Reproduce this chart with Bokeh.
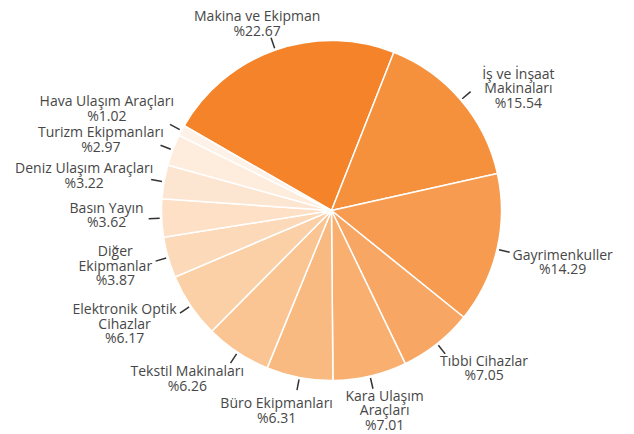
import math
from bokeh.plotting import figure
from bokeh.models import Range1d, ColumnDataSource
from bokeh.embed import file_html
from bokeh.resources import INLINE
from bokeh.core.properties import value

# ---- data ----
categories = [
    "Makina ve Ekipman",
    "İş ve İnşaat\nMakinaları",
    "Gayrimenkuller",
    "Tıbbi Cihazlar",
    "Kara Ulaşım\nAraçları",
    "Büro Ekipmanları",
    "Tekstil Makinaları",
    "Elektronik Optik\nCihazlar",
    "Diğer\nEkipmanlar",
    "Basın Yayın",
    "Deniz Ulaşım Araçları",
    "Turizm Ekipmanları",
    "Hava Ulaşım Araçları",
]
shares = [22.67, 15.54, 14.29, 7.05, 7.01, 6.31, 6.26, 6.17, 3.87, 3.62, 3.22, 2.97, 1.02]
colors = [
    "#F4832A", "#F5913D", "#F69B50", "#F7A663", "#F8AF70", "#F9BA82", "#FAC592",
    "#FBD0A6", "#FCD9B8", "#FDE0C5", "#FDE6D1", "#FEECDD", "#FEF2E8",
]

# ---- layout / style ----
W, H = 634, 434
CX, CY = 331, 210          # pie centre in picture pixels
R = 170
START_DEG = -60.1          # first slice starts here (clockwise from 12 o'clock)
TICK_R1, TICK_R2 = 172, 183
LABEL_ROT = 2.0            # side labels sit slightly further round (degrees)
FONT = "Open Sans"
FS = 14
LINE_H = 14.6
TEXT_COLOR = "#474747"


def to_y(y_screen):
    return H - y_screen


def text_width(t):
    w = 0.0
    for ch in t:
        if ch in "iıljI.,:İ":
            w += 0.28
        elif ch in "frt":
            w += 0.40
        elif ch == " ":
            w += 0.32
        elif ch in "mMwW%":
            w += 0.95
        elif ch.isdigit():
            w += 0.636
        elif ch.isupper():
            w += 0.68
        else:
            w += 0.60
    return w * 13


total = sum(shares)
starts, ends = [], []
acc = START_DEG
for v in shares:
    starts.append(acc)
    acc += v / total * 360.0
    ends.append(acc)

wedge_src = ColumnDataSource(dict(
    x=[CX] * len(shares),
    y=[to_y(CY)] * len(shares),
    start=[math.radians(90 - e) for e in ends],
    end=[math.radians(90 - s) for s in starts],
    color=colors,
))

blocks = []
tick_x0, tick_y0, tick_x1, tick_y1 = [], [], [], []
for i, (name, v) in enumerate(zip(categories, shares)):
    mid_deg = (starts[i] + ends[i]) / 2
    mid = math.radians(mid_deg)
    s, c = math.sin(mid), math.cos(mid)
    tick_x0.append(CX + TICK_R1 * s)
    tick_y0.append(to_y(CY - TICK_R1 * c))
    tick_x1.append(CX + TICK_R2 * s)
    tick_y1.append(to_y(CY - TICK_R2 * c))
    if abs(s) > 0.5 and c > -0.25:
        lm = math.radians(mid_deg + LABEL_ROT)
    else:
        lm = mid
    ls, lc = math.sin(lm), math.cos(lm)
    lines = name.split("\n") + ["%" + f"{v:.2f}"]
    w = max(text_width(l) for l in lines)
    h = len(lines) * LINE_H
    ax, ay = CX + TICK_R2 * ls, CY - TICK_R2 * lc
    if c >= 0:
        k = math.copysign(min(1.0, 2.0 * s * s), s)
    else:
        k = max(-1.0, min(1.0, 1.3 * s))
    if s > 0:
        gap = 6.0 * abs(k) ** 3
    else:
        gap = (1.0 if c >= 0 else -4.0) * abs(k) ** 3
    bx = ax + (w / 2) * k + gap
    by = ay - c * abs(c) * (h / 2 + 4) + 2
    blocks.append(dict(lines=lines, w=w, h=h, bx=bx, by=by, s=s, c=c,
                       side=(1 if s > 0.3 else (-1 if s < -0.3 else 0))))

# keep blocks inside the picture
for b in blocks:
    if b["by"] + b["h"] / 2 > H - 3:
        b["by"] = H - 3 - b["h"] / 2
    if b["by"] - b["h"] / 2 < 2:
        b["by"] = 2 + b["h"] / 2

# vertical overlap removal on each side (push upwards from bottom)
for side in (-1, 1):
    idx = [i for i, b in enumerate(blocks) if b["side"] == side]
    idx.sort(key=lambda i: blocks[i]["by"])
    for j in range(len(idx) - 2, -1, -1):
        a, b = blocks[idx[j]], blocks[idx[j + 1]]
        top_b = b["by"] - b["h"] / 2
        bottom_a = a["by"] + a["h"] / 2
        if bottom_a > top_b - 2:
            a["by"] = top_b - 2 - a["h"] / 2

# horizontal separation of neighbouring bottom labels
bottom = [i for i, b in enumerate(blocks) if b["c"] < -0.5]
bottom.sort(key=lambda i: blocks[i]["bx"])
for j in range(len(bottom) - 1):
    a, b = blocks[bottom[j]], blocks[bottom[j + 1]]
    if abs(a["by"] - b["by"]) < (a["h"] + b["h"]) / 2:
        g = (b["bx"] - b["w"] / 2) - (a["bx"] + a["w"] / 2)
        if g < 14:
            mover = a if abs(a["s"]) < abs(b["s"]) else b
            shift = 14 - g
            mover["bx"] += -shift if mover is a else shift

tx, ty, tt = [], [], []
for b in blocks:
    n = len(b["lines"])
    for j, line in enumerate(b["lines"]):
        yc = b["by"] + (j - (n - 1) / 2) * LINE_H
        tx.append(b["bx"])
        ty.append(to_y(yc))
        tt.append(line)

p = figure(width=W, height=H, output_backend="svg", toolbar_location=None,
           x_range=Range1d(0, W), y_range=Range1d(0, H),
           x_axis_location=None, y_axis_location=None, min_border=0)
p.grid.visible = False
p.outline_line_color = None
p.background_fill_color = "white"

p.wedge(x="x", y="y", radius=R, start_angle="start", end_angle="end",
        fill_color="color", line_color="white", line_width=1.5, source=wedge_src)

p.segment(x0=tick_x0, y0=tick_y0, x1=tick_x1, y1=tick_y1, line_color="#333333", line_width=1.5)

p.text(x=tx, y=ty, text=tt, text_align="center", text_baseline="middle",
       text_font=value(FONT), text_font_size=f"{FS}px", text_color=TEXT_COLOR)

open("out.html", "w").write(file_html(p, INLINE))
